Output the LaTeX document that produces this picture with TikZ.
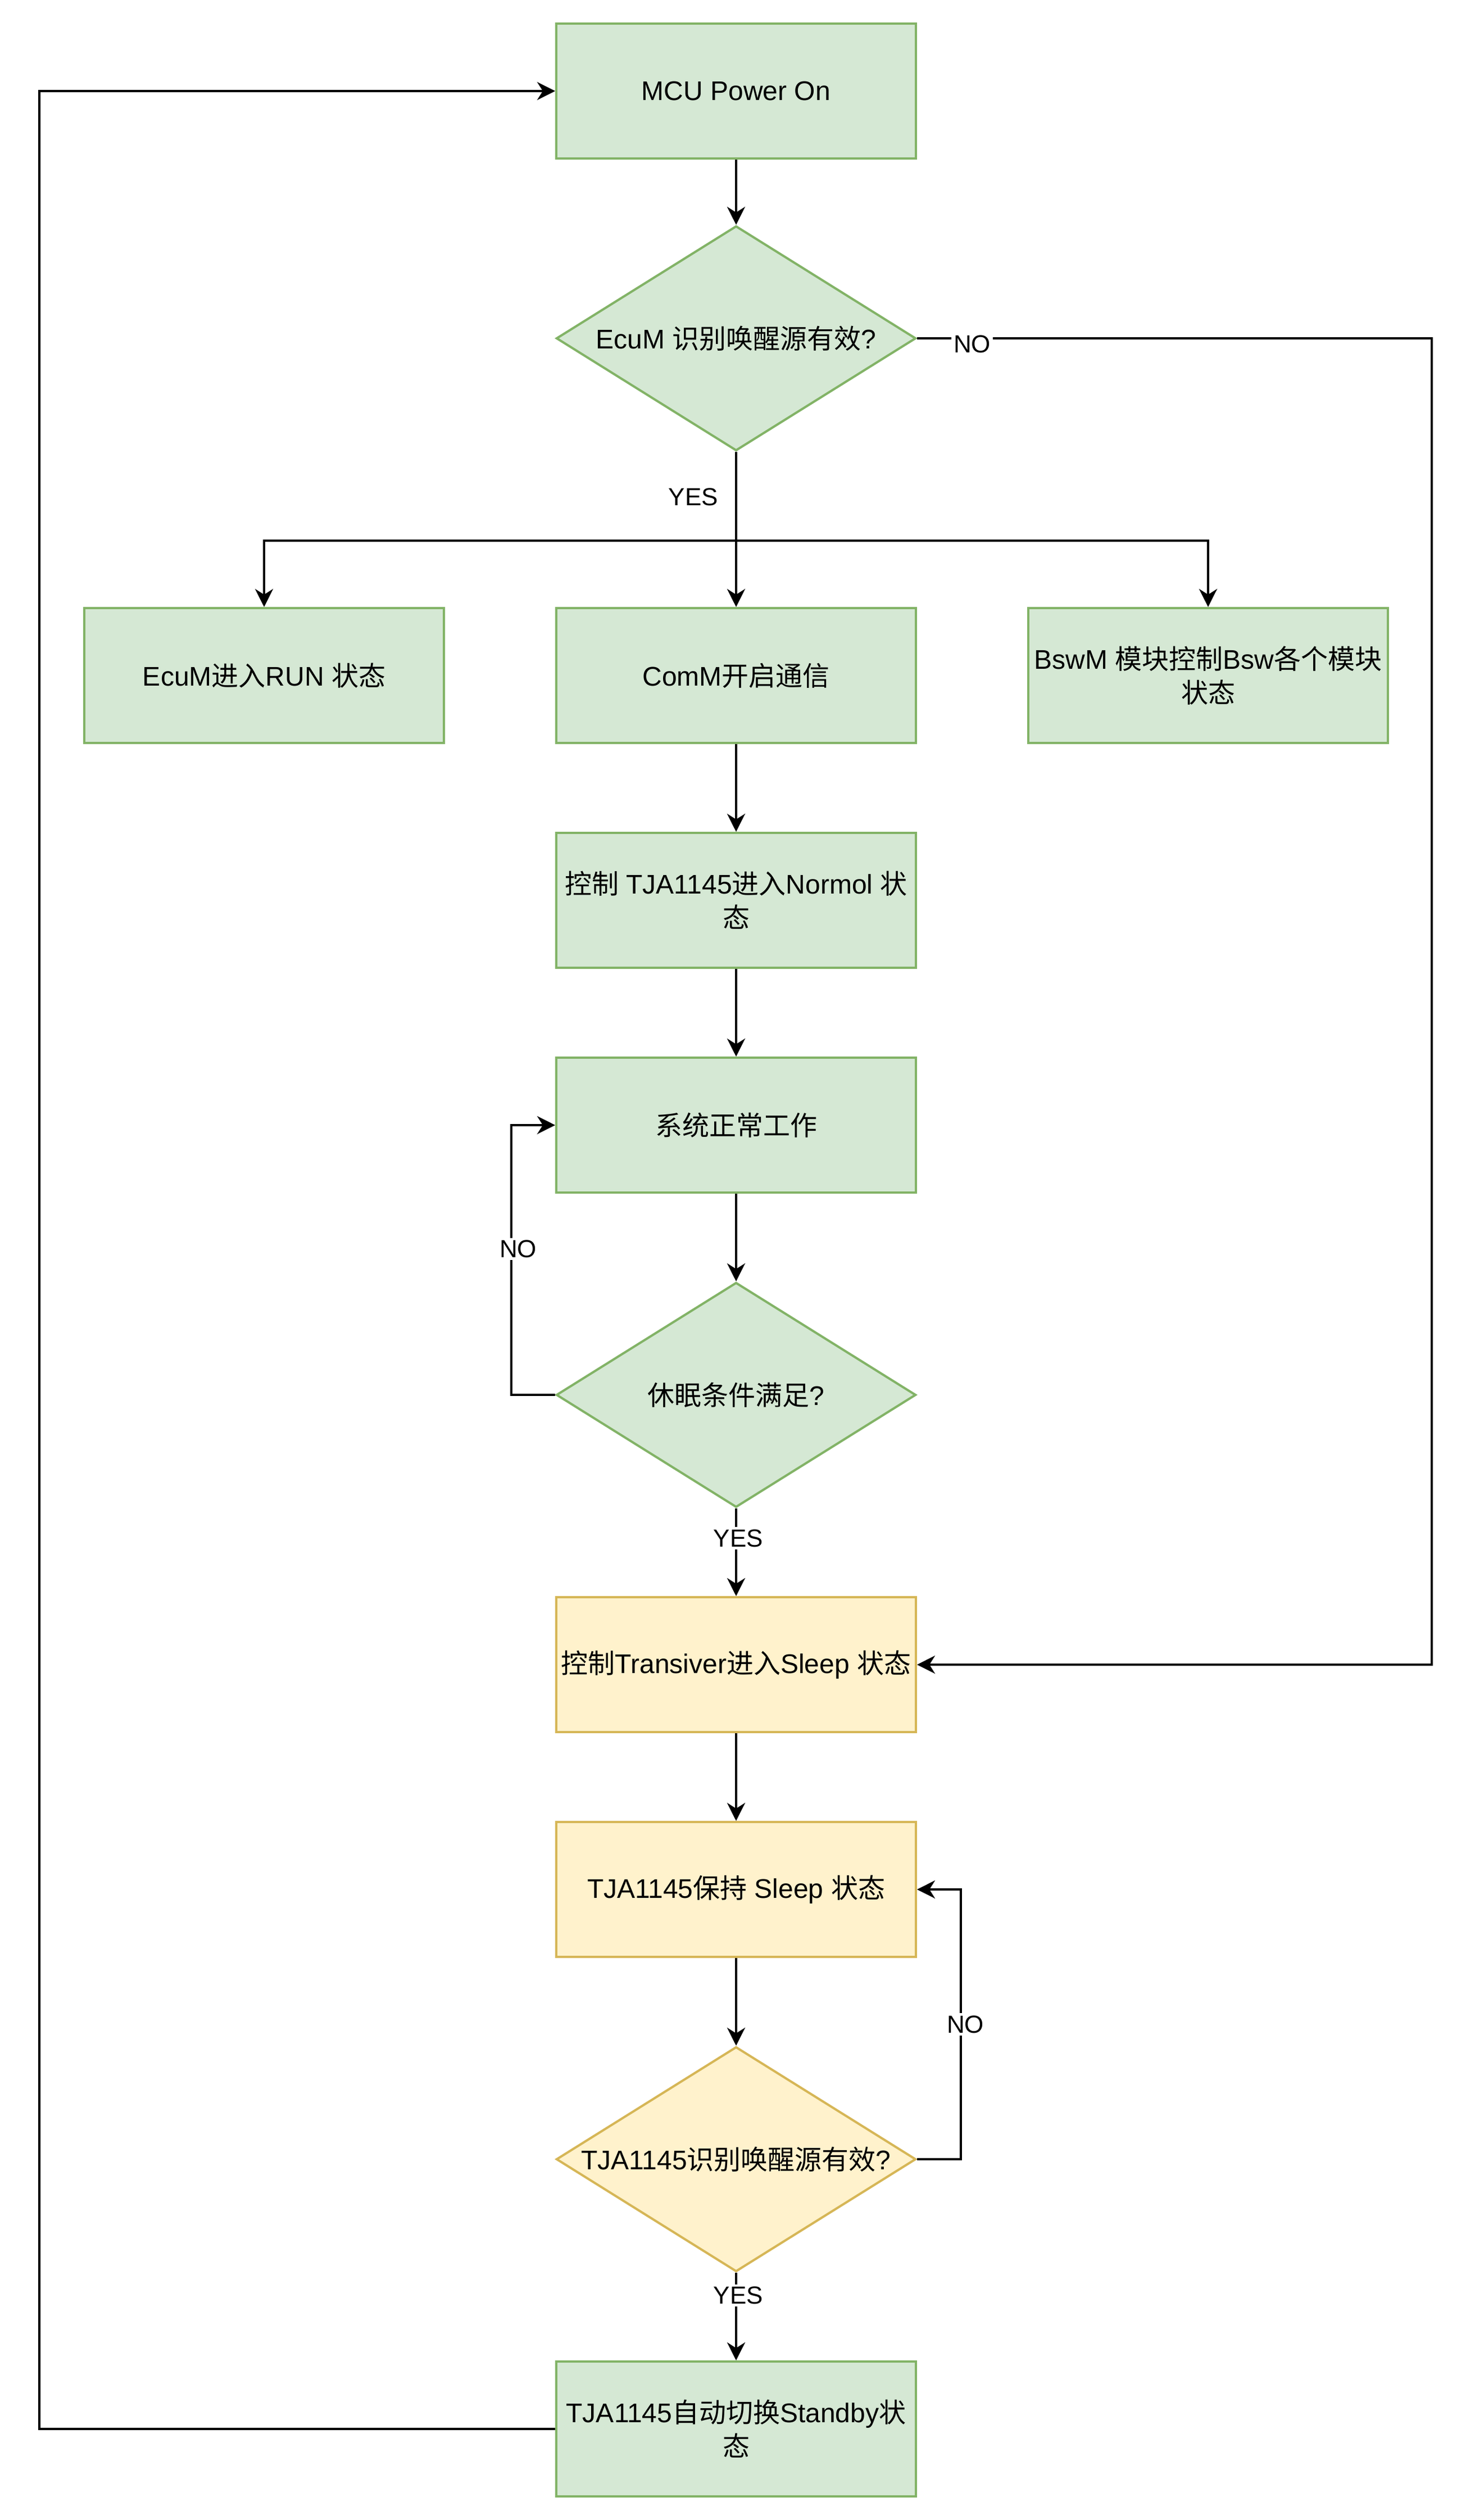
\documentclass[tikz,border=0pt]{standalone}
\usepackage{fontspec}
\setmainfont{Liberation Sans}
\newfontfamily\zhfont{Noto Sans CJK SC}
\newcommand{\zh}[1]{{\zhfont #1}}
\usetikzlibrary{positioning,arrows.meta,shapes.geometric}
\definecolor{activefill}{HTML}{D5E8D4}
\definecolor{activeline}{HTML}{82B366}
\definecolor{lowfill}{HTML}{FFF2CC}
\definecolor{lowline}{HTML}{D6B656}

\begin{document}
\begin{tikzpicture}[
  x=1pt, y=-1pt,
  every node/.style={font=\fontsize{12pt}{15pt}\selectfont, align=center},
  process/.style={draw, rectangle, minimum width=160pt, minimum height=60pt, inner sep=1pt, line width=1pt},
  decision/.style={draw, diamond, aspect=1.6, minimum width=160pt, minimum height=100pt, inner sep=0pt, line width=1pt},
  active/.style={fill=activefill, draw=activeline},
  lowpower/.style={fill=lowfill, draw=lowline},
  lbl/.style={fill=white, inner sep=1pt, font=\fontsize{11pt}{13pt}\selectfont},
  arrow/.style={-{Stealth[length=8pt, width=8pt, inset=2.5pt]}, line width=1pt}
]
\path[use as bounding box, fill=white] (0,0) rectangle (656,1121);

% Startup
\node[process, active] (power) at (327.5,40.5) {MCU Power On};
\node[decision, active] (wake) at (327.5,150.5) {EcuM \zh{识别唤醒源有效}?};

% Wakeup actions
\coordinate (split) at (327.5,240.5);
\node[process, active] (ecumrun) at (117.5,300.5) {EcuM\zh{进入}RUN \zh{状态}};
\node[process, active] (comm) at (327.5,300.5) {ComM\zh{开启通信}};
\node[process, active] (bswm) at (537.5,300.5) {BswM \zh{模块控制}Bsw\zh{各个模块}\\\zh{状态}};

% Normal operation
\node[process, active] (normal) at (327.5,400.5) {\zh{控制} TJA1145\zh{进入}Normol \zh{状}\\\zh{态}};
\node[process, active] (work) at (327.5,500.5) {\zh{系统正常工作}};
\node[decision, active] (sleepq) at (327.5,620.5) {\zh{休眠条件满足}?};

% Sleep handling
\node[process, lowpower] (sleep) at (327.5,740.5) {\zh{控制}Transiver\zh{进入}Sleep \zh{状态}};
\node[process, lowpower] (hold) at (327.5,840.5) {TJA1145\zh{保持} Sleep \zh{状态}};
\node[decision, lowpower] (tjawake) at (327.5,960.5) {TJA1145\zh{识别唤醒源有效}?};
\node[process, active] (standby) at (327.5,1080.5) {TJA1145\zh{自动切换}Standby\zh{状}\\\zh{态}};

% Main flow
\draw[arrow] (power) -- (wake);
\draw[arrow] (wake) -- node[pos=0.29, left=6.5pt, inner sep=1pt, font=\fontsize{11pt}{13pt}\selectfont] {YES} (comm);
\draw[arrow] (wake.south) -- (split) -| (ecumrun);
\draw[arrow] (split) -| (bswm);
\draw[arrow] (comm) -- (normal);
\draw[arrow] (normal) -- (work);
\draw[arrow] (work) -- (sleepq);
\draw[arrow] (sleepq) -- node[lbl, pos=0.34, xshift=1pt] {YES} (sleep);
\draw[arrow] (sleep) -- (hold);
\draw[arrow] (hold) -- (tjawake);
\draw[arrow] (tjawake) -- node[lbl, pos=0.26, xshift=1pt] {YES} (standby);

% Loops back
\draw[arrow] (sleepq.west) -- (227.5,620.5) -- node[lbl, pos=0.54, xshift=3pt] {NO} (227.5,500.5) -- (work.west);
\draw[arrow] (tjawake.east) -- (427.5,960.5) -- node[lbl, xshift=2pt] {NO} (427.5,840.5) -- (hold.east);
\draw[arrow] (wake.east) -- node[lbl, pos=0.107, yshift=-2.5pt] {NO} (637,150.5) |- (sleep.east);
\draw[arrow] (standby.west) -- (17.5,1080.5) |- (power.west);

\end{tikzpicture}
\end{document}
